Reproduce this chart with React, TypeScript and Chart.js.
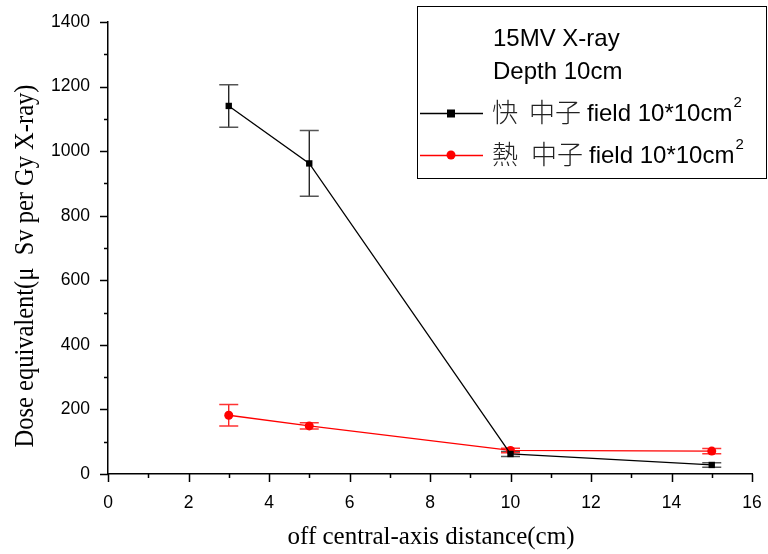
import React, { useEffect, useRef } from "react";
import { Chart, registerables } from "chart.js";

Chart.register(...registerables);

// ---- data ----
const distances = [3, 5, 10, 15];
const fastValues = [1140, 962, 62, 28];
const fastErrors = [66, 102, 8, 7];
const thermalValues = [182, 149, 73, 71];
const thermalErrors = [33, 10, 7, 8];

const xTickMin = 0;
const xTickMax = 16;
const yTickMin = 0;
const yTickMax = 1400;

const xTitle = "off central-axis distance(cm)";
const yTitle = "Dose equivalent(\u03bc  Sv per Gy X-ray)";
const legendLine1 = "15MV X-ray";
const legendLine2 = "Depth 10cm";
const fastLabelCjk = ["\u5feb", "\u4e2d\u5b50"];
const thermalLabelCjk = ["\u71b1", "\u4e2d\u5b50"];
const fieldLabel = "field 10*10cm";
const superscript = "2";

const SANS = "'Liberation Sans', Arial, sans-serif";
const SERIF = "'Liberation Serif', 'Times New Roman', serif";
const CJK = "'Noto Sans CJK TC', 'Noto Sans CJK SC', sans-serif";

const errorBarPlugin = {
  id: "errorBars",
  beforeDatasetsDraw(chart: any) {
    const ctx = chart.ctx;
    const xs = chart.scales.x;
    const ys = chart.scales.y;
    const sets = [
      { vals: fastValues, errs: fastErrors, color: "#000000", cap: "#555555" },
      { vals: thermalValues, errs: thermalErrors, color: "#ff0000", cap: "#ff3333" },
    ];
    ctx.save();
    sets.forEach((s) => {
      distances.forEach((d, i) => {
        const px = xs.getPixelForValue(d);
        const top = ys.getPixelForValue(s.vals[i] + s.errs[i]);
        const bot = ys.getPixelForValue(s.vals[i] - s.errs[i]);
        ctx.strokeStyle = s.color;
        ctx.lineWidth = 1.2;
        ctx.beginPath();
        ctx.moveTo(px, top);
        ctx.lineTo(px, bot);
        ctx.stroke();
        ctx.strokeStyle = s.cap;
        ctx.lineWidth = 1.5;
        ctx.beginPath();
        ctx.moveTo(px - 9.5, top);
        ctx.lineTo(px + 9.5, top);
        ctx.moveTo(px - 9.5, bot);
        ctx.lineTo(px + 9.5, bot);
        ctx.stroke();
      });
    });
    ctx.restore();
  },
};

const decorPlugin = {
  id: "decor",
  afterDraw(chart: any) {
    const ctx = chart.ctx;
    const xs = chart.scales.x;
    const ys = chart.scales.y;
    const area = chart.chartArea;
    ctx.save();
    // tick marks
    ctx.strokeStyle = "#000";
    ctx.lineWidth = 1.5;
    ctx.beginPath();
    for (let v = xTickMin; v <= xTickMax; v += 1) {
      const px = Math.round(xs.getPixelForValue(v)) + 0.5;
      const len = v % 2 === 0 ? 8 : 4;
      ctx.moveTo(px, area.bottom);
      ctx.lineTo(px, area.bottom + len);
    }
    for (let v = yTickMin; v <= yTickMax; v += 100) {
      const py = Math.round(ys.getPixelForValue(v)) + 0.5;
      const len = v % 200 === 0 ? 8 : 4;
      ctx.moveTo(area.left, py);
      ctx.lineTo(area.left - len, py);
    }
    ctx.stroke();

    // axis titles
    ctx.fillStyle = "#000";
    ctx.font = `25px ${SERIF}`;
    ctx.textAlign = "center";
    ctx.textBaseline = "alphabetic";
    ctx.fillText(xTitle, (area.left + area.right) / 2 + 1, 544);
    ctx.save();
    ctx.translate(33, 266);
    ctx.rotate(-Math.PI / 2);
    ctx.scale(1, 1.15);
    ctx.font = `24.5px ${SERIF}`;
    ctx.fillText(yTitle, 0, 0);
    ctx.restore();

    // legend box
    ctx.lineWidth = 1;
    ctx.strokeStyle = "#000";
    ctx.strokeRect(417.5, 6.5, 349, 172);
    ctx.textAlign = "left";
    ctx.font = `24px ${SANS}`;
    ctx.fillText(legendLine1, 493, 46);
    ctx.fillText(legendLine2, 493, 79);

    const rows = [
      { y: 113, base: 121, color: "#000", cjk: fastLabelCjk, square: true, fieldX: 587 },
      { y: 155, base: 163, color: "#ff0000", cjk: thermalLabelCjk, square: false, fieldX: 589 },
    ];
    rows.forEach((r) => {
      ctx.strokeStyle = r.color;
      ctx.lineWidth = 1.3;
      ctx.beginPath();
      ctx.moveTo(420, r.y + 0.5);
      ctx.lineTo(483, r.y + 0.5);
      ctx.stroke();
      ctx.fillStyle = r.color;
      if (r.square) {
        ctx.fillRect(447, r.y - 3.5, 8, 8);
      } else {
        ctx.beginPath();
        ctx.arc(451, r.y, 4.5, 0, Math.PI * 2);
        ctx.fill();
      }
      ctx.fillStyle = "#222";
      ctx.font = `300 26px ${CJK}`;
      ctx.fillText(r.cjk[0], 492, r.base + 1);
      ctx.fillText(r.cjk[1], r.fieldX - 58, r.base + 1);
      ctx.fillStyle = "#000";
      ctx.font = `24px ${SANS}`;
      ctx.fillText(fieldLabel, r.fieldX, r.base);
      const w = ctx.measureText(fieldLabel).width;
      ctx.font = `15px ${SANS}`;
      ctx.fillText(superscript, r.fieldX + w + 1, r.base - 14);
    });
    ctx.restore();
  },
};

export default function App() {
  const canvasRef = useRef<HTMLCanvasElement | null>(null);

  useEffect(() => {
    document.body.style.margin = "0";
    const canvas = canvasRef.current;
    if (!canvas) return;
    const toPoints = (vals: number[]) => distances.map((d, i) => ({ x: d, y: vals[i] }));
    const chart = new Chart(canvas, {
      type: "scatter",
      data: {
        datasets: [
          {
            label: "fast",
            data: toPoints(fastValues),
            showLine: true,
            borderColor: "#000000",
            backgroundColor: "#000000",
            borderWidth: 1.3,
            pointStyle: "rect",
            pointRadius: 4.5,
            pointBorderWidth: 0,
          },
          {
            label: "thermal",
            data: toPoints(thermalValues),
            showLine: true,
            borderColor: "#ff0000",
            backgroundColor: "#ff0000",
            borderWidth: 1.3,
            pointStyle: "circle",
            pointRadius: 4.5,
            pointBorderWidth: 0,
          },
        ],
      },
      options: {
        animation: false,
        responsive: false,
        devicePixelRatio: 1,
        layout: { padding: { top: 22, right: 16, left: 0, bottom: 0 } },
        plugins: { legend: { display: false }, tooltip: { enabled: false }, title: { display: false } },
        scales: {
          x: {
            type: "linear",
            min: xTickMin,
            max: xTickMax,
            grid: { display: false, drawTicks: false },
            border: { display: true, color: "#000", width: 1.5 },
            ticks: {
              stepSize: 2,
              color: "#000",
              padding: 19,
              font: { family: SANS, size: 17.5 },
              maxRotation: 0,
              callback: (v: any) => String(v),
            },
            afterFit: (s: any) => {
              s.height = 80;
              s.paddingLeft = 0;
              s.paddingRight = 0;
              s.paddingTop = 0;
              s.paddingBottom = 0;
            },
          },
          y: {
            type: "linear",
            min: yTickMin,
            max: yTickMax,
            grid: { display: false, drawTicks: false },
            border: { display: true, color: "#000", width: 1.5 },
            ticks: {
              stepSize: 200,
              color: "#000",
              padding: 18,
              font: { family: SANS, size: 17.5 },
              callback: (v: any) => String(v),
            },
            afterFit: (s: any) => {
              s.width = 108;
              s.paddingLeft = 0;
              s.paddingRight = 0;
              s.paddingTop = 0;
              s.paddingBottom = 0;
            },
          },
        },
      },
      plugins: [errorBarPlugin, decorPlugin],
    } as any);
    return () => chart.destroy();
  }, []);

  return (
    <div style={{ position: "absolute", left: 0, top: 0, width: 768, height: 554, background: "#fff" }}>
      <canvas ref={canvasRef} width={768} height={554} style={{ width: 768, height: 554, display: "block" }} />
    </div>
  );
}
